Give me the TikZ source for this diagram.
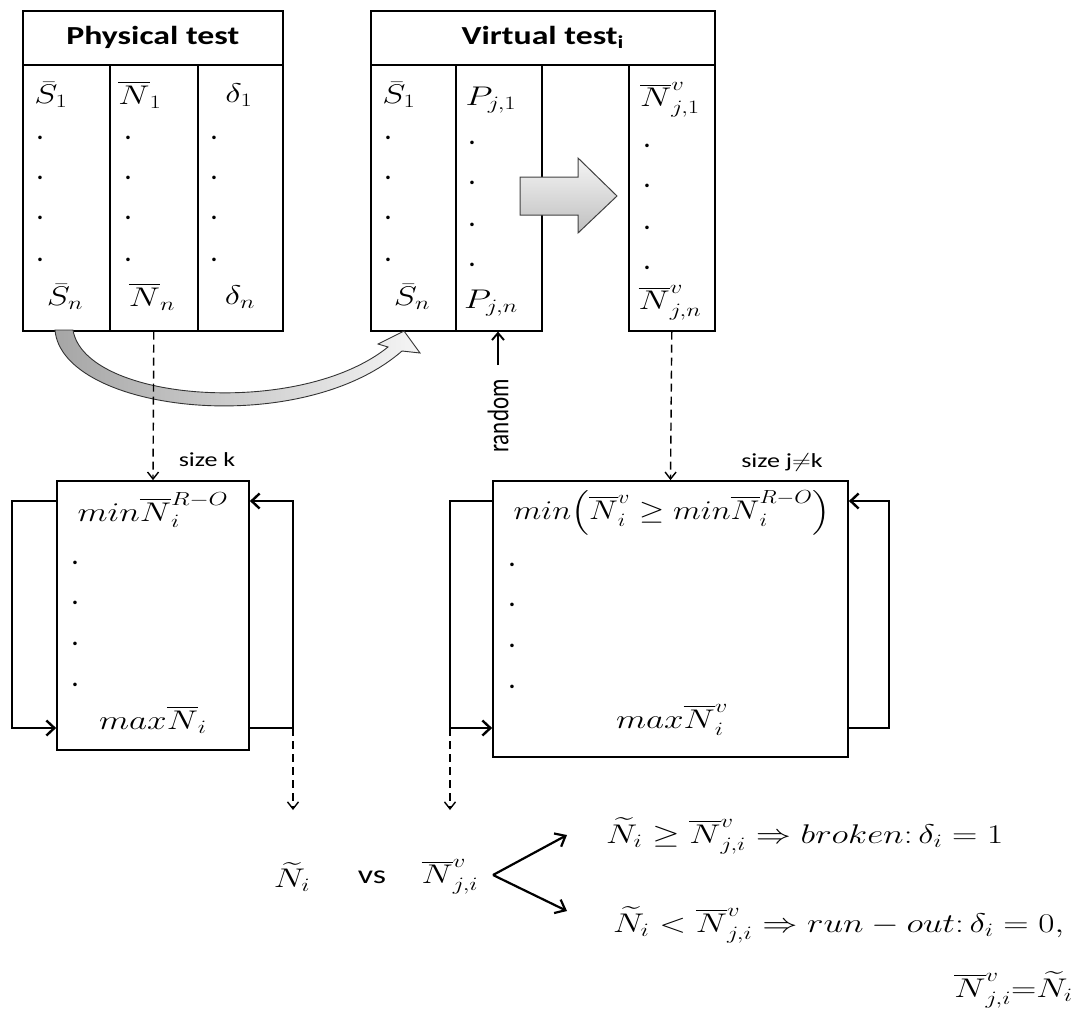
\RequirePackage{fix-cm}
\documentclass[tikz,border=0pt]{standalone}
\usepackage{exscale}
\usepackage{fontspec}
\setsansfont{Carlito}
\usetikzlibrary{arrows.meta}
\newcommand{\hs}[1]{\scalebox{1.3}[1]{#1}}
\begin{document}
\begin{tikzpicture}[x=1pt,y=-1pt,
  font=\fontsize{27}{31}\selectfont,
  cell/.style={draw, line width=1.6pt, inner sep=0pt, anchor=north west},
  bigbox/.style={draw, line width=1.7pt, inner sep=0pt},
  head/.style={font=\sffamily\bfseries\fontsize{26}{30}\selectfont},
  lbl/.style={font=\sffamily\fontsize{20}{24}\selectfont},
  mt/.style={inner sep=1pt},
  dotn/.style={inner sep=0pt, font=\sffamily\bfseries\fontsize{24}{26}\selectfont},
  dasharr/.style={line width=1.4pt, dash pattern=on 8pt off 5pt, -{Straight Barb[length=7pt,width=11pt]}},
  looparr/.style={line width=2.4pt, -{Straight Barb[length=8pt,width=15pt]}},
  brarr/.style={line width=2.2pt, -{Straight Barb[length=9pt,width=15pt]}},
  rndarr/.style={line width=1.9pt, -{Straight Barb[length=7pt,width=12pt]}}
]
\useasboundingbox (0,0) rectangle (1076,1020);

% ---------- Physical test table
\node[cell, head, minimum width=260pt, minimum height=54pt] (phead) at (22,10) {\hs{Physical test}};
\node[cell, minimum width=87pt, minimum height=266pt] (pS) at (22,64) {};
\node[cell, minimum width=88pt, minimum height=266pt] (pN) at (109,64) {};
\node[cell, minimum width=85pt, minimum height=266pt] (pD) at (197,64) {};

\node[mt] (pS1) at (51,95) {\hs{$\bar{S}_1$}};
\node[mt] (pN1) at (140,95) {\hs{$\overline{N}_1$}};
\node[mt] (pD1) at (239,95) {\hs{$\delta_1$}};
\node[mt] (pSn) at (65,297) {\hs{$\bar{S}_n$}};
\node[mt] (pNn) at (152,297) {\hs{$\overline{N}_n$}};
\node[mt] (pDn) at (240,297) {\hs{$\delta_n$}};
\foreach \yy [count=\k] in {138,178,218,260} {
  \node[dotn] (pSd\k) at (40,\yy) {.};
  \node[dotn] (pNd\k) at (128,\yy) {.};
  \node[dotn] (pDd\k) at (214,\yy) {.};
}

% ---------- Virtual test table
\node[cell, head, minimum width=344pt, minimum height=54pt] (vhead) at (370,10) {\hs{Virtual test\textsubscript{i}}};
\node[cell, minimum width=85pt, minimum height=266pt] (vS) at (370,64) {};
\node[cell, minimum width=86pt, minimum height=266pt] (vP) at (455,64) {};
\node[cell, minimum width=86pt, minimum height=266pt] (vN) at (628,64) {};

\node[mt] (vS1) at (399,95) {\hs{$\bar{S}_1$}};
\node[mt] (vP1) at (491,100) {\hs{$P_{j,1}$}};
\node[mt] (vN1) at (670,100) {\hs{$\overline{N}^v_{j,1}$}};
\node[mt] (vSn) at (412,297) {\hs{$\bar{S}_n$}};
\node[mt] (vPn) at (491,303) {\hs{$P_{j,n}$}};
\node[mt] (vNn) at (670,303) {\hs{$\overline{N}^v_{j,n}$}};
\foreach \yy [count=\k] in {138,178,218,260} {
  \node[dotn] (vSd\k) at (388,\yy) {.};
}
\foreach \yy [count=\k] in {143,183,225,265} {
  \node[dotn] (vPd\k) at (472,\yy) {.};
  \node[dotn] (vNd\k) at (647,\yy+3) {.};
}

% block arrow
\draw[draw=black!75, line width=1pt, top color=gray!8, bottom color=gray!50]
  (520,177) -- (578,177) -- (578,158) -- (617,196) -- (578,233) -- (578,215) -- (520,215) -- cycle;

% curved transfer arrow
\draw[draw=black!80, line width=0.9pt, left color=gray!70, right color=gray!8]
  (55,330) .. controls (62,412) and (300,440) .. (402,351)
  -- (420,353) -- (404,331) -- (378,344) -- (388,347)
  .. controls (300,418) and (85,402) .. (73,330) -- cycle;

% random
\node[font=\sffamily\fontsize{23}{26}\selectfont, rotate=90, inner sep=0pt] (rnd) at (498,416) {\scalebox{1}[1.3]{random}};
\draw[rndarr] ([yshift=14pt]rnd.east) -- (rnd.east |- vP.south);

% ---------- lower boxes
\node[bigbox, minimum width=192pt, minimum height=269pt] (lowL) at (153,615.5) {};
\node[bigbox, minimum width=355pt, minimum height=276pt] (lowR) at (670.5,619) {};

\draw[dasharr] (pN.south) -- (lowL.north);
\draw[dasharr] (vN.south) -- (lowR.north);
\node[lbl] (szk) at (207,460) {\hs{size k}};
\node[lbl] (szj) at (782,462) {\hs{size j$\neq$k}};

\node[mt] (minL) at (153,510) {\hs{$min\overline{N}^{R-O}_i$}};
\node[mt] (maxL) at (153,720) {\hs{$max\overline{N}_i$}};
\node[mt] (minR) at (672,513) {\scalebox{1.2}[1]{$min\Bigl(\overline{N}^v_i\geq min\overline{N}^{R-O}_i\Bigr)$}};
\node[mt] (maxR) at (672,720) {\hs{$max\overline{N}^v_i$}};
\foreach \yy [count=\k] in {563,603,644,685} {
  \node[dotn] (lLd\k) at (75,\yy) {.};
  \node[dotn] (lRd\k) at (512,\yy+2) {.};
}

% loops
\coordinate (LL1) at (12,501); \coordinate (LL2) at (12,728);
\coordinate (LR1) at (293,728); \coordinate (LR2) at (293,501);
\coordinate (RL1) at (450,501); \coordinate (RL2) at (450,728);
\coordinate (RR1) at (889,728); \coordinate (RR2) at (889,501);
\draw[looparr] (lowL.west |- LL1) -- (LL1) -- (LL2) -- (lowL.west |- LL2);
\draw[looparr] (lowL.east |- LR1) -- (LR1) -- (LR2) -- (lowL.east |- LR2);
\draw[looparr] (lowR.west |- RL1) -- (RL1) -- (RL2) -- (lowR.west |- RL2);
\draw[looparr] (lowR.east |- RR1) -- (RR1) -- (RR2) -- (lowR.east |- RR2);

% ---------- comparison
\node[mt] (Nt) at (292,877) {\hs{$\widetilde{N}_i$}};
\node[font=\sffamily\fontsize{26}{30}\selectfont] (vs) at (372,877) {\hs{vs}};
\node[mt] (Nv) at (450,877) {\hs{$\overline{N}^v_{j,i}$}};
\coordinate (aL) at (293,810); \coordinate (aR) at (450,810);
\draw[dasharr] (LR1) -- (aL);
\draw[dasharr] (RL2) -- (aR);

\coordinate (vx) at (493,875);
\coordinate (tU) at (567,835);
\coordinate (tD) at (567,911);
\draw[brarr] (vx) -- (tU);
\draw[brarr] (vx) -- (tD);

\node[mt, anchor=west] (res1) at (605,836) {\hs{$\widetilde{N}_i\geq\overline{N}^v_{j,i}\Rightarrow broken\colon\delta_i=1$}};
\node[mt, anchor=west] (res2) at (612,925) {\hs{$\widetilde{N}_i<\overline{N}^v_{j,i}\Rightarrow run-out\colon\delta_i=0,$}};
\node[mt, anchor=east] (res3) at (1074,990) {\hs{$\overline{N}^v_{j,i}{=}\widetilde{N}_i$}};
\end{tikzpicture}
\end{document}
